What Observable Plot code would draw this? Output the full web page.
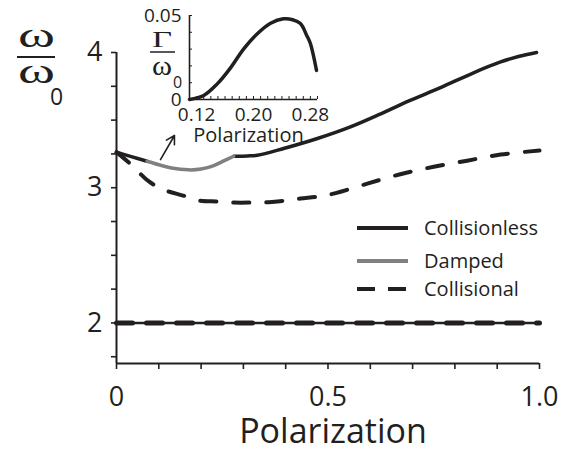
<!DOCTYPE html>
<html>
<head>
<meta charset="utf-8">
<script src="https://cdn.jsdelivr.net/npm/d3@7"></script>
<script src="https://cdn.jsdelivr.net/npm/@observablehq/plot@0.6"></script>
<style>
  html, body { margin: 0; padding: 0; background: #fff; }
  #wrap { position: relative; width: 574px; height: 453px; overflow: hidden; }
  #inset { position: absolute; left: 130px; top: 0px; }
</style>
</head>
<body>
<div id="wrap"><div id="main"></div><div id="inset"></div></div>
<script>
// ---------- data ----------
const ink = "#231f20";
const grey = "#808080";

// Collisionless (solid black), first piece before the damped region
const collA_x = [0, 0.035, 0.072];
const collA_y = [3.263, 3.23, 3.196];
// Damped (grey)
const damped_x = [0.072, 0.10, 0.13, 0.17, 0.20, 0.23, 0.255, 0.277];
const damped_y = [3.196, 3.17, 3.146, 3.132, 3.138, 3.164, 3.20, 3.233];
// Collisionless after damped region
const collB_x = [0.277, 0.31, 0.333, 0.395, 0.475, 0.553, 0.62, 0.69, 0.766, 0.844, 0.908, 0.95, 0.993];
const collB_y = [3.233, 3.235, 3.24, 3.29, 3.364, 3.45, 3.54, 3.64, 3.74, 3.85, 3.93, 3.97, 4.0];
// Collisional (dashed)
const colli_x = [0, 0.035, 0.075, 0.11, 0.16, 0.195, 0.24, 0.277, 0.32, 0.36, 0.40, 0.435, 0.478, 0.518, 0.593, 0.671, 0.75, 0.829, 0.908, 1.0];
const colli_y = [3.263, 3.17, 3.05, 2.987, 2.94, 2.905, 2.898, 2.89, 2.89, 2.893, 2.905, 2.92, 2.935, 2.96, 3.03, 3.10, 3.155, 3.20, 3.245, 3.275];
// Lower branch at 2 (both models)
const lower_x = [0, 1];
const lower_y = [2, 2];

// Arrow pointing to inset
const arrowFrom = [0.104, 3.208];
const arrowTo = [0.137, 3.386];

// Axes
const xTicks = [0, 0.1, 0.2, 0.3, 0.4, 0.5, 0.6, 0.7, 0.8, 0.9, 1.0];
const xTickLabels = {0: "0", 0.5: "0.5", 1: "1.0"};
const yTicks = [1.75, 2, 2.25, 2.5, 2.75, 3, 3.25, 3.5, 3.75, 4];
const yTickLabels = {2: "2", 3: "3", 4: "4"};
const xLabel = "Polarization";

// Legend
const legendLabels = ["Collisionless", "Damped", "Collisional"];
const legendStroke = [ink, grey, ink];
const legendDash = [null, null, "18,13"];

// Inset: Gamma / omega0 vs polarization
const inset_x = [0.11, 0.130, 0.149, 0.168, 0.186, 0.205, 0.224, 0.242, 0.255, 0.266, 0.275, 0.280, 0.2886];
const inset_y = [0, 0.0024, 0.0093, 0.019, 0.030, 0.039, 0.0454, 0.048, 0.0475, 0.0452, 0.038, 0.0333, 0.0173];
const insetXTicks = [0.12, 0.20, 0.28];
const insetYTicks = [0, 0.05];
const insetXLabel = "Polarization";

// ---------- build ----------
const pts = (xs, ys) => xs.map((x, i) => ({x, y: ys[i]}));
const sans = "'Open Sans', 'DejaVu Sans', sans-serif";
const serif = "'Liberation Serif', 'DejaVu Serif', serif";

function yLabelMark() {
  const g = d3.create("svg:g").attr("fill", ink).attr("text-anchor", "start");
  g.append("text").attr("x", 18).attr("y", 47).attr("font-family", serif).attr("font-size", 36)
    .attr("textLength", 37).attr("lengthAdjust", "spacingAndGlyphs").text("ω");
  g.append("line").attr("x1", 17).attr("x2", 55).attr("y1", 57).attr("y2", 57)
    .attr("stroke", ink).attr("stroke-width", 2);
  g.append("text").attr("x", 18).attr("y", 83).attr("font-family", serif).attr("font-size", 36)
    .attr("textLength", 37).attr("lengthAdjust", "spacingAndGlyphs").text("ω");
  g.append("text").attr("x", 50).attr("y", 105).attr("font-family", sans).attr("font-size", 23).text("0");
  // inset label Γ/ω0
  g.append("text").attr("x", 152).attr("y", 47).attr("font-family", serif).attr("font-size", 23)
    .attr("textLength", 20).attr("lengthAdjust", "spacingAndGlyphs").text("Γ");
  g.append("line").attr("x1", 150).attr("x2", 175).attr("y1", 52).attr("y2", 52)
    .attr("stroke", ink).attr("stroke-width", 1.5);
  g.append("text").attr("x", 152).attr("y", 75).attr("font-family", serif).attr("font-size", 28)
    .attr("textLength", 20).attr("lengthAdjust", "spacingAndGlyphs").text("ω");
  g.append("text").attr("x", 173).attr("y", 88).attr("font-family", sans).attr("font-size", 16).text("0");
  return g.node();
}

function legendMark() {
  const g = d3.create("svg:g").attr("text-anchor", "start");
  const rowsY = [228, 261, 289];
  legendLabels.forEach((lab, i) => {
    const l = g.append("line").attr("x1", 357).attr("x2", 408).attr("y1", rowsY[i]).attr("y2", rowsY[i])
      .attr("stroke", legendStroke[i]).attr("stroke-width", 4);
    if (legendDash[i]) l.attr("stroke-dasharray", legendDash[i]);
    g.append("text").attr("x", 424).attr("y", rowsY[i]).attr("dy", "0.36em")
      .attr("font-family", sans).attr("font-size", 20).attr("fill", ink).text(lab);
  });
  return g.node();
}

const main = Plot.plot({
  width: 574, height: 453,
  marginLeft: 116, marginRight: 35, marginTop: 52, marginBottom: 90,
  x: {domain: [0, 1]},
  y: {domain: [1.7, 4]},
  style: {fontFamily: sans, color: ink, background: "white", overflow: "visible"},
  marks: [
    Plot.axisY({ticks: yTicks, tickSize: 5, tickPadding: 9, fontSize: 27, label: null, strokeWidth: 1.6,
      tickFormat: d => yTickLabels[d] ?? ""}),
    Plot.axisX({ticks: xTicks, tickSize: 6, tickPadding: 17, fontSize: 27, label: null, strokeWidth: 1.6,
      tickFormat: d => xTickLabels[Math.round(d * 10) / 10] ?? ""}),
    Plot.ruleX([0], {stroke: ink, strokeWidth: 2}),
    Plot.ruleY([1.7], {stroke: ink, strokeWidth: 2}),
    Plot.line(pts(lower_x, lower_y), {x: "x", y: "y", stroke: ink, strokeWidth: 2.5}),
    Plot.line(pts(lower_x, lower_y), {x: "x", y: "y", stroke: ink, strokeWidth: 5, strokeDasharray: "16,14"}),
    Plot.line(pts(colli_x, colli_y), {x: "x", y: "y", stroke: ink, strokeWidth: 4, strokeDasharray: "16,17", curve: "catmull-rom"}),
    Plot.line(pts(collA_x, collA_y), {x: "x", y: "y", stroke: ink, strokeWidth: 3.5, curve: "catmull-rom"}),
    Plot.line(pts(collB_x, collB_y), {x: "x", y: "y", stroke: ink, strokeWidth: 3.5, curve: "catmull-rom"}),
    Plot.line(pts(damped_x, damped_y), {x: "x", y: "y", stroke: grey, strokeWidth: 3.5, curve: "catmull-rom"}),
    Plot.arrow([{x1: arrowFrom[0], y1: arrowFrom[1], x2: arrowTo[0], y2: arrowTo[1]}],
      {x1: "x1", y1: "y1", x2: "x2", y2: "y2", stroke: ink, strokeWidth: 1.6, headLength: 9}),
    Plot.text([xLabel], {frameAnchor: "bottom", lineAnchor: "middle", dy: 69, dx: 5, text: d => d, fontSize: 34, fill: ink}),
    yLabelMark,
    legendMark
  ]
});
document.getElementById("main").append(main);

const insetPlot = Plot.plot({
  width: 200, height: 150,
  marginLeft: 59, marginRight: 13, marginTop: 15, marginBottom: 51,
  x: {domain: [0.11, 0.29]},
  y: {domain: [0, 0.05]},
  style: {fontFamily: sans, color: ink, background: "transparent", overflow: "visible"},
  marks: [
    Plot.axisX({ticks: d3.range(11, 30).map(d => d / 100), tickSize: 3, dy: -3, tickFormat: () => "", label: null}),
    Plot.axisY({ticks: d3.range(0, 6).map(d => d / 100), tickSize: 3, dx: 3, tickFormat: () => "", label: null}),
    Plot.axisX({ticks: insetXTicks, tickSize: 0, tickPadding: 8, fontSize: 19, label: null, tickFormat: d3.format(".2f")}),
    Plot.axisY({ticks: insetYTicks, tickSize: 0, tickPadding: 8, fontSize: 19, label: null, tickFormat: d => d === 0 ? "0" : "0.05"}),
    Plot.ruleX([0.11], {stroke: ink, strokeWidth: 1.6}),
    Plot.ruleY([0], {stroke: ink, strokeWidth: 1.6}),
    Plot.line(pts(inset_x, inset_y), {x: "x", y: "y", stroke: ink, strokeWidth: 3.5, curve: "catmull-rom"}),
    Plot.text([insetXLabel], {frameAnchor: "bottom", lineAnchor: "middle", dy: 36, dx: -5, text: d => d, fontSize: 20, fill: ink})
  ]
});
document.getElementById("inset").append(insetPlot);
</script>
</body>
</html>
